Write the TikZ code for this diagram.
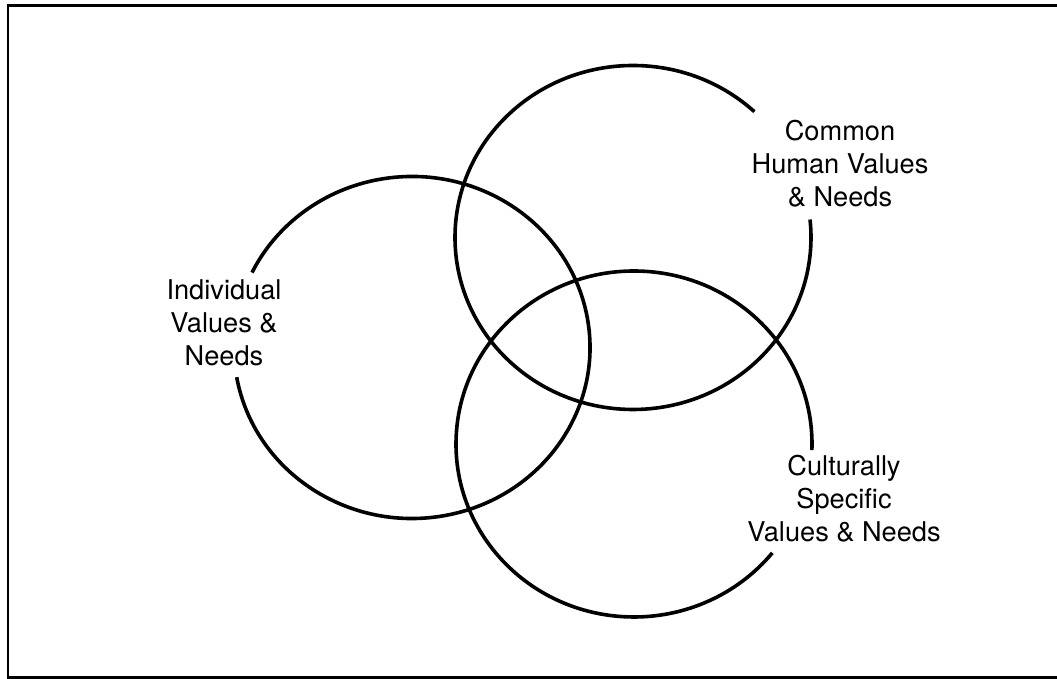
\documentclass[tikz,border=0pt]{standalone}
\usepackage{fontspec}
\setmainfont{TeX Gyre Heros}

\begin{document}
\begin{tikzpicture}[
    x = 0.5pt, y = 0.5pt,
    ring/.style = {line width=1.8pt},
    frame/.style = {line width=1.1pt},
    txt/.style = {align=center, inner sep=0pt, font=\fontsize{13.6}{16.5}\selectfont}
]
\useasboundingbox (0,0) rectangle (1057,679);
\draw[frame] (1057,673.5) -| (8,1.5) -- (1057,1.5);

% centres of the three sets
\coordinate (ci) at (412,331.5);
\coordinate (cc) at (633,441.5);
\coordinate (cs) at (634,235);

% each ring is left open where its text sits
\draw[ring] (ci) ++(190:178 and 171) arc[start angle=190, end angle=514, x radius=178, y radius=171];
\draw[ring] (cc) ++(47:178 and 172) arc[start angle=47, end angle=366, x radius=178, y radius=172];
\draw[ring] (cs) ++(-2:178 and 173) arc[start angle=-2, end angle=321, x radius=178, y radius=173];

\node (indiv) [txt] at (224,356) {Individual\\Values \&\\Needs};
\node (common) [txt] at (840,515) {Common\\Human Values\\\& Needs};
\node (cult) [txt] at (844,180) {Culturally\\Specific\\Values \& Needs};
\end{tikzpicture}
\end{document}
